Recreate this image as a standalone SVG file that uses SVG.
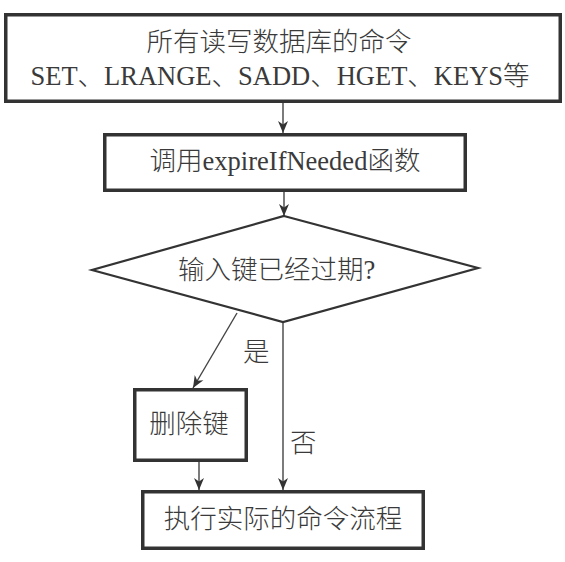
<svg xmlns="http://www.w3.org/2000/svg" width="565" height="562" viewBox="0 0 565 562">
<style>
.box{fill:#fff;stroke:#333;stroke-width:3.5}
.dia{fill:#fff;stroke:#333;stroke-width:2.2}
.t{font-family:"Liberation Serif","Noto Sans CJK SC",serif;font-size:26.5px;font-weight:300;fill:#3a3a3a}
.c{text-anchor:middle}
.ln{fill:none;stroke:#444;stroke-width:1.4}
</style>
<defs>
<marker id="ah" markerUnits="userSpaceOnUse" markerWidth="13" markerHeight="11" refX="12" refY="5" orient="auto" viewBox="0 0 13 10">
<path d="M0,0 L12,5 L0,10 L3.5,5 z" fill="#333"/>
</marker>
</defs>
<rect width="565" height="562" fill="#fff"/>
<g id="connectors">
<line class="ln" x1="283" y1="103" x2="283" y2="133" marker-end="url(#ah)"/>
<line class="ln" x1="284" y1="192" x2="284" y2="216" marker-end="url(#ah)"/>
<line class="ln" x1="283" y1="322" x2="283" y2="490" marker-end="url(#ah)"/>
<line class="ln" x1="237" y1="313" x2="193" y2="388" marker-end="url(#ah)"/>
<line class="ln" x1="199" y1="462" x2="199" y2="490" marker-end="url(#ah)"/>
<text class="t" x="243" y="361">是</text>
<text class="t" x="290" y="452">否</text>
</g>
<g id="node-commands">
<rect class="box" x="5.75" y="14.75" width="554.5" height="86.5"/>
<text class="t c" x="279" y="51">所有读写数据库的命令</text>
<text class="t c" x="280" y="85">SET、LRANGE、SADD、HGET、KEYS等</text>
</g>
<g id="node-expire">
<rect class="box" x="104.75" y="134.75" width="360.5" height="55.5"/>
<text class="t c" x="285" y="170">调用expireIfNeeded函数</text>
</g>
<g id="node-decision">
<polygon class="dia" points="284,216 478,268 283,322 92,270"/>
<text class="t" x="178" y="279">输入键已经过期?</text>
</g>
<g id="node-delete">
<rect class="box" x="134.75" y="389.75" width="111.5" height="70.5"/>
<text class="t c" x="189" y="433">删除键</text>
</g>
<g id="node-execute">
<rect class="box" x="142.75" y="491.75" width="280.5" height="56.5"/>
<text class="t c" x="283" y="528">执行实际的命令流程</text>
</g>
</svg>
